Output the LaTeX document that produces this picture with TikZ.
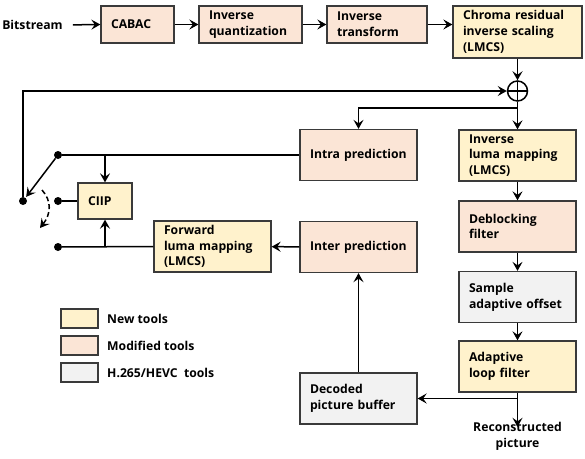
\documentclass[tikz,border=0pt]{standalone}
\usepackage{fontspec}
\setmainfont{Open Sans}
\usetikzlibrary{arrows.meta}
\definecolor{newc}{HTML}{FFF2CC}
\definecolor{modc}{HTML}{FBE5D6}
\definecolor{hevc}{HTML}{F2F2F2}
\definecolor{edge}{HTML}{3A3A3A}
\begin{document}
\begin{tikzpicture}[x=1pt,y=-1pt,
  every node/.style={font=\bfseries\fontsize{12.2}{15.8}\selectfont},
  box/.style={draw=edge, line width=1.3pt, inner xsep=10pt, inner ysep=0pt, align=left, minimum height=51pt},
  b117/.style={box, minimum width=117pt, text width=97pt},
  dot/.style={circle, fill=black, inner sep=0pt, minimum size=8pt},
  conn/.style={line width=1.5pt, -{Stealth[length=9pt,width=10pt,inset=3.5pt]}},
  line/.style={line width=1.5pt},
  leg/.style={draw=edge, line width=1.3pt, minimum width=37pt, minimum height=19pt, inner sep=0pt}]
\useasboundingbox (0,0) rectangle (585,458);
% top row
\node[inner sep=0pt] (bits) at (32.5,25) {Bitstream};
\node[box, fill=modc, minimum width=73pt, text width=53pt, minimum height=37pt] (cabac) at (137.5,24.5) {CABAC};
\node[box, fill=modc, minimum width=103pt, text width=83pt, minimum height=37pt] (iq) at (250.5,24.5) {Inverse\\quantization};
\node[box, fill=modc, minimum width=100pt, text width=80pt, minimum height=37pt] (it) at (377,24.5) {Inverse\\transform};
\node[box, fill=newc, minimum width=129pt, text width=109pt, minimum height=52pt] (chroma) at (517.5,32) {Chroma residual\\inverse scaling\\(LMCS)};
\node[circle, draw=black, line width=1.5pt, minimum size=20pt, inner sep=0pt,
  path picture={\draw[line width=1.5pt] (path picture bounding box.north) -- (path picture bounding box.south) (path picture bounding box.west) -- (path picture bounding box.east);}] (sum) at (517.5,91) {};
% right column
\node[b117, fill=newc] (ilm) at (517.5,155.5) {Inverse\\luma mapping\\(LMCS)};
\node[b117, fill=modc] (deb) at (517.5,226.5) {Deblocking\\filter};
\node[b117, fill=hevc] (sao) at (517.5,297) {Sample\\adaptive offset};
\node[b117, fill=newc] (alf) at (517.5,366.5) {Adaptive\\loop filter};
\node[align=center, inner sep=0pt] (recon) at (517.5,436) {Reconstructed\\picture};
% middle column
\node[b117, fill=modc] (intra) at (358.5,155) {Intra prediction};
\node[b117, fill=modc] (inter) at (358.5,247) {Inter prediction};
\node[b117, fill=hevc] (dpb) at (358.5,398.5) {Decoded\\picture buffer};
% left part
\node[box, fill=newc, minimum width=54pt, text width=34pt, minimum height=36pt] (ciip) at (105,201) {CIIP};
\node[b117, fill=newc] (flm) at (212.5,246.5) {Forward\\luma mapping\\(LMCS)};
\node[dot] (d1) at (58,155) {};
\node[dot] (d2) at (58,201) {};
\node[dot] (d3) at (58,247) {};
\node[dot] (piv) at (23,201) {};
% connectors top
\draw[conn, shorten <=10pt] (bits.east) -- (cabac.west);
\draw[conn] (cabac) -- (iq);
\draw[conn] (iq) -- (it);
\draw[conn] (it.east) -- (chroma.west |- it.east);
\draw[conn] (chroma) -- (sum);
\coordinate (br) at (517.5,108);
\draw[line] (sum.south) -- (br);
\draw[conn] (br) -- (ilm.north);
\draw[conn] (br) -| (intra.north);
\draw[conn] (ilm) -- (deb);
\draw[conn] (deb) -- (sao);
\draw[conn] (sao) -- (alf);
\coordinate (br2) at (517.5,398.5);
\draw[line] (alf.south) -- (br2);
\draw[conn] (br2) -- (dpb.east);
\draw[conn] (br2) -- ([yshift=-5pt]recon.north);
\draw[conn] (dpb) -- (inter);
\draw[conn] (inter) -- (flm);
% left wiring
\draw[line] (intra.west) -- (d1);
\draw[conn] (ciip.north |- d1) -- (ciip.north);
\draw[line] (ciip.west) -- (d2);
\draw[line] (flm.west) -- (d3);
\draw[conn] (ciip.south |- d3) -- (ciip.south);
\draw[conn] (piv) |- (sum.west);
\draw[conn, shorten >=1pt] (d1) -- (piv);
\draw[line width=1.5pt, dashed, dash pattern=on 5pt off 3pt, -{Stealth[length=9pt,width=10pt,inset=3.5pt]}] (42,190) .. controls (52,201) and (51,214) .. (40,228);
% legend
\node[leg, fill=newc] (l1) at (79.5,318.5) {};
\node[leg, fill=modc] (l2) at (79.5,345.5) {};
\node[leg, fill=hevc] (l3) at (79.5,372.5) {};
\node[anchor=west, inner sep=0pt] (t1) at (107,318.5) {New tools};
\node[anchor=west, inner sep=0pt] (t2) at (107,345.5) {Modified tools};
\node[anchor=west, inner sep=0pt] (t3) at (107,372.5) {H.265/HEVC~~tools};
\end{tikzpicture}
\end{document}
